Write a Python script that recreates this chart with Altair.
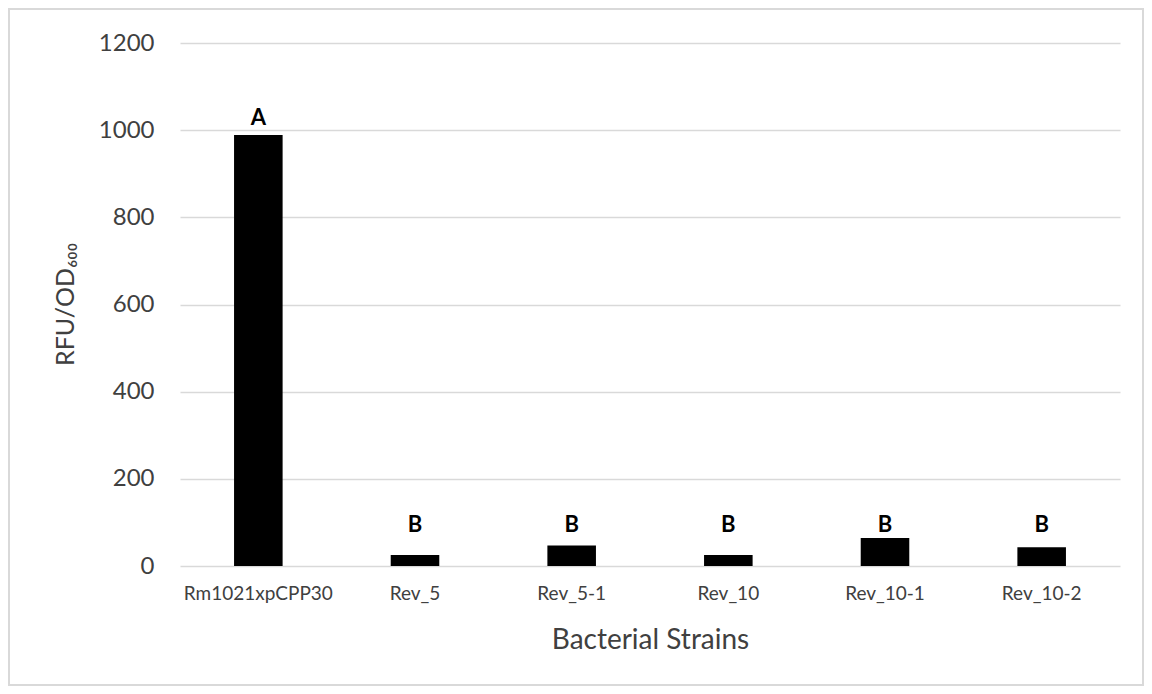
import altair as alt
import pandas as pd

strains = ["Rm1021xpCPP30", "Rev_5", "Rev_5-1", "Rev_10", "Rev_10-1", "Rev_10-2"]
rfu = [989, 25, 47, 25, 64, 43]
groups = ["A", "B", "B", "B", "B", "B"]
label_pos = [1028, 94, 94, 94, 94, 94]

df = pd.DataFrame({"strain": strains, "rfu": rfu, "group": groups, "lab": label_pos})

W, H = 940, 523
FONT = "Lato"

xenc = alt.X(
    "strain:N",
    sort=strains,
    scale=alt.Scale(paddingInner=0.69, paddingOuter=0.345),
    axis=alt.Axis(
        title="Bacterial Strains",
        labelAngle=0,
        labelFontSize=19,
        labelColor="#404040",
        labelPadding=18,
        labelFont=FONT,
        ticks=False,
        domain=False,
        titleFontSize=28,
        titleFont=FONT,
        titleFontWeight="normal",
        titleColor="#404040",
        titleY=74,
        titleBaseline="middle",
    ),
)

yscale = alt.Scale(domain=[0, 1200])

bars = alt.Chart(df).mark_bar(color="black").encode(
    x=xenc,
    y=alt.Y(
        "rfu:Q",
        scale=yscale,
        axis=alt.Axis(
            title="RFU/OD₆₀₀",
            values=[0, 200, 400, 600, 800, 1000, 1200],
            format="d",
            labelFontSize=24,
            labelFont=FONT,
            labelColor="#404040",
            labelPadding=26,
            ticks=False,
            domain=False,
            gridColor="#d9d9d9",
            gridWidth=1.5,
            titleFontSize=25,
            titleFont=FONT,
            titleFontWeight="normal",
            titleColor="#404040",
            titleX=-115,
            titleY=261,
            titleAngle=-90,
            titleBaseline="middle",
            titleAlign="center",
        ),
    ),
)

labels = alt.Chart(df).mark_text(
    fontWeight="bold", fontSize=22, font=FONT, color="black", baseline="middle"
).encode(
    x=alt.X("strain:N", sort=strains),
    y=alt.Y("lab:Q", scale=yscale),
    text="group:N",
)

border = alt.Chart(df.head(1)).mark_rect(
    fillOpacity=0, stroke="#d9d9d9", strokeWidth=2
).encode(
    x=alt.value(-171), x2=alt.value(W + 23),
    y=alt.value(-34), y2=alt.value(H + 119),
)

chart = alt.layer(border, bars, labels).properties(
    width=W,
    height=H,
    autosize=alt.AutoSizeParams(type="none"),
    padding={"left": 172, "top": 35, "right": 24, "bottom": 120},
).configure_view(stroke=None)

chart.save("out.html", embed_options={"renderer": "svg", "actions": False})
